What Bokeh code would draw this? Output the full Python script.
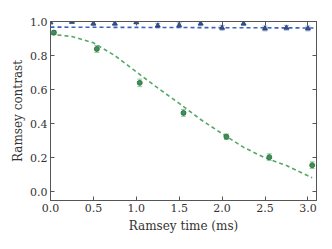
from bokeh.plotting import figure
from bokeh.models import Range1d, LinearAxis, Whisker, ColumnDataSource, FixedTicker, TeeHead, PrintfTickFormatter
from bokeh.embed import file_html
from bokeh.resources import INLINE

# ---- data ----
green_t = [0.04, 0.54, 1.04, 1.55, 2.05, 2.55, 3.05]
green_c = [0.935, 0.839, 0.64, 0.464, 0.324, 0.204, 0.157]
green_err = [0.012, 0.02, 0.022, 0.02, 0.016, 0.02, 0.02]

blue_t = [0.0, 0.25, 0.5, 0.75, 1.0, 1.25, 1.5, 1.75, 2.0, 2.25, 2.5, 2.75, 3.0]
blue_c = [0.995, 0.998, 0.988, 0.988, 0.996, 0.976, 0.978, 0.988, 0.963, 0.988, 0.959, 0.963, 0.959]
blue_err = [0.01, 0.01, 0.012, 0.012, 0.01, 0.012, 0.014, 0.012, 0.014, 0.012, 0.014, 0.014, 0.014]

green_fit_t = [0.0, 0.25, 0.5, 0.75, 1.0, 1.25, 1.5, 1.75, 2.0, 2.25, 2.5, 2.75, 3.0, 3.05]
green_fit_c = [0.925, 0.912, 0.875, 0.80, 0.705, 0.61, 0.52, 0.425, 0.342, 0.262, 0.20, 0.155, 0.095, 0.083]

blue_fit_t = [0.0, 3.1]
blue_fit_c = [0.967, 0.962]

x_ticks = [0.0, 0.5, 1.0, 1.5, 2.0, 2.5, 3.0]
y_ticks = [0.0, 0.2, 0.4, 0.6, 0.8, 1.0]

FONT = "DejaVu Serif"

p = figure(frame_width=266, frame_height=179, output_backend="svg", toolbar_location=None,
           x_range=Range1d(0, 3.1), y_range=Range1d(-0.05, 1.0),
           min_border_left=50, min_border_right=7, min_border_top=21, min_border_bottom=40)
p.grid.visible = False
p.outline_line_color = "#555555"
p.outline_line_width = 1
p.background_fill_color = "white"
p.border_fill_color = "white"

p.xaxis[0].ticker = FixedTicker(ticks=x_ticks)
p.yaxis[0].ticker = FixedTicker(ticks=y_ticks)
for ax in (p.xaxis[0], p.yaxis[0]):
    ax.formatter = PrintfTickFormatter(format="%.1f")
    ax.major_tick_in = 4
    ax.major_tick_out = 0
    ax.minor_tick_line_color = None
    ax.axis_line_color = "#555555"
    ax.major_tick_line_color = "#555555"
    ax.major_label_text_font = FONT
    ax.major_label_text_font_size = "11px"
    ax.major_label_text_color = "#333333"
    ax.axis_label_text_font = FONT
    ax.axis_label_text_font_size = "12px"
    ax.axis_label_text_font_style = "normal"
    ax.axis_label_text_color = "#333333"
p.xaxis[0].axis_label = "Ramsey time (ms)"
p.yaxis[0].axis_label = "Ramsey contrast"
p.xaxis[0].major_label_standoff = 3
p.yaxis[0].major_label_standoff = 3
p.xaxis[0].axis_label_standoff = 4
p.yaxis[0].axis_label_standoff = 2

for loc, ticks in (("above", x_ticks), ("right", y_ticks)):
    ax = LinearAxis(ticker=FixedTicker(ticks=ticks), major_tick_in=4, major_tick_out=0,
                    minor_tick_line_color=None, axis_line_color="#555555",
                    major_tick_line_color="#555555", major_label_text_font_size="0px",
                    major_label_text_color=None, major_label_standoff=0)
    p.add_layout(ax, loc)

# fit lines
p.line(green_fit_t, green_fit_c, line_color="#55a868", line_width=1.6, line_dash="4 3")
p.line(blue_fit_t, blue_fit_c, line_color="#3a64c4", line_width=1.6, line_dash="4 3")

# error bars
gsrc = ColumnDataSource(dict(x=green_t, y=green_c,
                             lo=[v - e for v, e in zip(green_c, green_err)],
                             hi=[v + e for v, e in zip(green_c, green_err)]))
bsrc = ColumnDataSource(dict(x=blue_t, y=blue_c,
                             lo=[v - e for v, e in zip(blue_c, blue_err)],
                             hi=[v + e for v, e in zip(blue_c, blue_err)]))
for src, col in ((gsrc, "#8ccf9c"), (bsrc, "#9fb0d8")):
    w = Whisker(source=src, base="x", lower="lo", upper="hi", line_color=col, line_width=1,
                upper_head=TeeHead(size=5, line_color=col, line_width=1),
                lower_head=TeeHead(size=5, line_color=col, line_width=1))
    p.add_layout(w)

p.scatter("x", "y", source=gsrc, marker="circle", size=5, fill_color="#3f8f57",
          line_color="#2c6b3e", line_width=0.8)
p.scatter("x", "y", source=bsrc, marker="triangle", size=5, fill_color="#34528f",
          line_color="#253d6e", line_width=0.8)

open("out.html", "w").write(file_html(p, INLINE))
